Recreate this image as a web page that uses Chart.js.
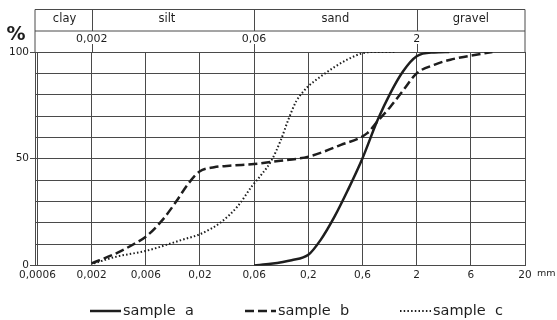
<!DOCTYPE html>
<html>
<head>
<meta charset="utf-8">
<script src="https://cdn.jsdelivr.net/npm/chart.js@4.4.1/dist/chart.umd.min.js"></script>
<style>
  html, body { margin: 0; padding: 0; background: #fff; }
</style>
</head>
<body>
<canvas id="myChart" width="557" height="320"></canvas>
<script>
// grain size axis (mm), half-decade grid
const tickValues = [0.000632, 0.002, 0.00632, 0.02, 0.0632, 0.2, 0.632, 2, 6.32, 20];
const tickLabels = ['0,0006', '0,002', '0,006', '0,02', '0,06', '0,2', '0,6', '2', '6', '20'];

// soil fractions shown in the header
const fractionNames = ['clay', 'silt', 'sand', 'gravel'];
const fractionBounds = [0.000632, 0.002, 0.0632, 2, 20];
const boundLabels = ['0,002', '0,06', '2'];

const seriesNames = ['sample a', 'sample b', 'sample c'];

// sample a
const sizeA = [0.0632, 0.09, 0.14, 0.2, 0.26, 0.35, 0.46, 0.63, 0.87, 1.15, 1.5, 2.0, 2.9, 4.0];
const passA = [0, 0.8, 2.5, 5, 12, 23, 35, 50, 68, 81, 91, 98, 99.8, 100];
// sample b
const sizeB = [0.002, 0.0033, 0.0047, 0.0065, 0.0089, 0.0117, 0.0157, 0.0198, 0.027, 0.039, 0.0632, 0.097, 0.2, 0.4, 0.7, 0.87, 1.15, 1.5, 2.0, 2.9, 4.1, 5.9, 10];
const passB = [1, 5.5, 9.5, 14, 21, 29, 38.5, 44, 46, 46.8, 47.5, 48.7, 51, 56.5, 62, 67.5, 74.5, 82, 90, 94, 96.4, 98, 100];
// sample c
const sizeC = [0.0021, 0.0033, 0.0065, 0.0136, 0.0207, 0.0316, 0.045, 0.06, 0.075, 0.091, 0.112, 0.13, 0.155, 0.18, 0.2, 0.26, 0.35, 0.46, 0.63, 0.8, 1.28];
const passC = [1, 4, 7, 12, 15, 20.5, 28, 37, 43, 49, 59, 68, 77, 81.5, 84, 88.5, 93, 96.5, 99.4, 100, 100];

const ink = '#1e1e1e';
const gridColor = '#4a4a4a';
const fontFamily = '"DejaVu Sans", sans-serif';

function toPoints(xs, ys) {
    return xs.map((x, i) => ({ x: x, y: ys[i] }));
}

// header table, % sign, mm unit and legend
const extrasPlugin = {
    id: 'extras',
    afterDraw(chart) {
        const ctx = chart.ctx;
        const xScale = chart.scales.x;
        const area = chart.chartArea;
        const top = 9.5, mid = 31;
        ctx.save();
        ctx.strokeStyle = gridColor;
        ctx.lineWidth = 1;
        ctx.beginPath();
        ctx.moveTo(area.left, top); ctx.lineTo(area.right, top);
        ctx.moveTo(area.left, mid); ctx.lineTo(area.right, mid);
        ctx.moveTo(area.left, top); ctx.lineTo(area.left, area.top);
        ctx.moveTo(area.right, top); ctx.lineTo(area.right, area.top);
        for (let i = 1; i < fractionBounds.length - 1; i++) {
            const px = Math.round(xScale.getPixelForValue(fractionBounds[i])) + 0.5;
            ctx.moveTo(px, top); ctx.lineTo(px, mid);
            ctx.moveTo(px, 44); ctx.lineTo(px, area.top);
        }
        ctx.stroke();

        ctx.fillStyle = ink;
        ctx.textAlign = 'center';
        ctx.textBaseline = 'middle';
        ctx.font = '11.5px ' + fontFamily;
        fractionNames.forEach((name, i) => {
            const a = xScale.getPixelForValue(fractionBounds[i]);
            const b = xScale.getPixelForValue(fractionBounds[i + 1]);
            ctx.fillText(name, (a + b) / 2 - (i === 1 ? 6 : 0), 19.5);
        });
        ctx.font = '11px ' + fontFamily;
        boundLabels.forEach((lab, i) => {
            ctx.fillText(lab, xScale.getPixelForValue(fractionBounds[i + 1]), 39);
        });

        // % sign
        ctx.font = 'bold 19px ' + fontFamily;
        ctx.fillText('%', 16, 35);

        // unit
        ctx.textAlign = 'left';
        ctx.font = '9.5px ' + fontFamily;
        ctx.fillText('mm', 537, 274);

        // legend
        const starts = [90, 245, 400];
        ctx.font = '14.5px ' + fontFamily;
        chart.data.datasets.forEach((ds, i) => {
            const x0 = starts[i], y0 = 311;
            ctx.beginPath();
            ctx.strokeStyle = ds.borderColor;
            ctx.lineWidth = ds.borderWidth;
            ctx.setLineDash(ds.borderDash || []);
            ctx.moveTo(x0, y0); ctx.lineTo(x0 + 31, y0);
            ctx.stroke();
            ctx.setLineDash([]);
            ctx.fillStyle = ink;
            ctx.fillText(ds.label, x0 + 33, y0);
        });
        ctx.restore();
    }
};

new Chart(document.getElementById('myChart'), {
    type: 'line',
    data: {
        datasets: [
            {
                label: seriesNames[0].replace(' ', '  '),
                data: toPoints(sizeA, passA),
                borderColor: ink,
                borderWidth: 2.5,
                pointRadius: 0,
                cubicInterpolationMode: 'monotone'
            },
            {
                label: seriesNames[1].replace(' ', '  '),
                data: toPoints(sizeB, passB),
                borderColor: ink,
                borderWidth: 2.5,
                borderDash: [9, 4],
                pointRadius: 0,
                cubicInterpolationMode: 'monotone'
            },
            {
                label: seriesNames[2].replace(' ', '  '),
                data: toPoints(sizeC, passC),
                borderColor: ink,
                borderWidth: 2,
                borderDash: [1.5, 2.2],
                pointRadius: 0,
                cubicInterpolationMode: 'monotone'
            }
        ]
    },
    options: {
        responsive: false,
        animation: false,
        layout: { padding: { left: 0, right: 32, top: 52, bottom: 0 } },
        plugins: {
            legend: { display: false },
            tooltip: { enabled: false }
        },
        scales: {
            x: {
                type: 'logarithmic',
                min: tickValues[0],
                max: tickValues[tickValues.length - 1],
                afterBuildTicks: (scale) => {
                    scale.ticks = tickValues.map(v => ({ value: v }));
                },
                afterFit: (scale) => { scale.height = 54.5; },
                grid: { color: gridColor, lineWidth: 1, drawTicks: false },
                border: { color: gridColor },
                ticks: {
                    autoSkip: false,
                    maxRotation: 0,
                    padding: 3,
                    color: ink,
                    font: { family: fontFamily, size: 10.5 },
                    callback: (value, index) => tickLabels[index]
                }
            },
            y: {
                min: 0,
                max: 100,
                afterFit: (scale) => { scale.width = 35; },
                grid: {
                    color: gridColor,
                    lineWidth: 1,
                    tickLength: 5,
                    tickColor: (c) => (c.tick && c.tick.value % 50 === 0) ? gridColor : 'rgba(0,0,0,0)'
                },
                border: { color: gridColor },
                ticks: {
                    stepSize: 10,
                    padding: 1,
                    color: ink,
                    font: { family: fontFamily, size: 10.5 },
                    callback: (value) => (value % 50 === 0 ? String(value) : '')
                }
            }
        }
    },
    plugins: [extrasPlugin]
});
</script>
</body>
</html>
